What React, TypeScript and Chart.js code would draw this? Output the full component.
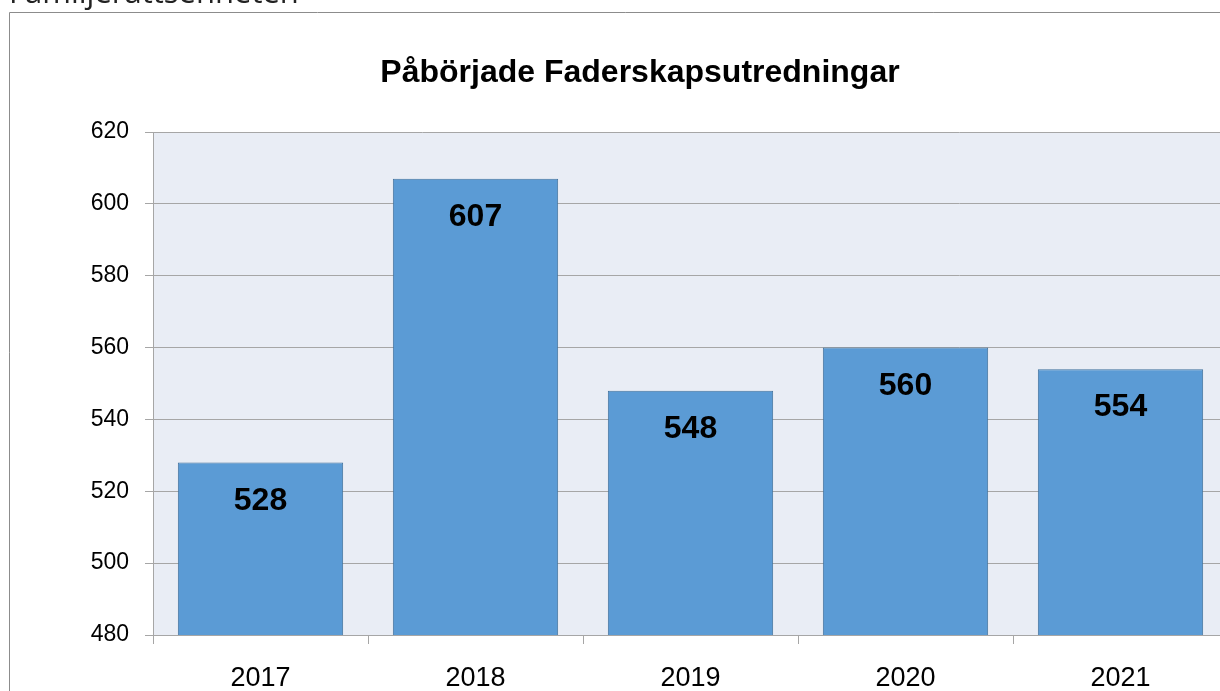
import React, { useEffect, useRef } from "react";
import { Chart, registerables } from "chart.js";

Chart.register(...registerables);

const categories = ["2017", "2018", "2019", "2020", "2021"];
const values = [528, 607, 548, 560, 554];
const yMin = 480;
const yMax = 620;
const yStep = 20;
const chartTitle = "Påbörjade Faderskapsutredningar";
const headerText = "Familjerättsenheten";

const W = 1240;
const H = 691;

const decorPlugin = {
  id: "decor",
  beforeDraw(chart: any) {
    const { ctx, chartArea } = chart;
    ctx.save();
    ctx.fillStyle = "#ffffff";
    ctx.fillRect(0, 0, chart.width, chart.height);
    // outer border
    ctx.strokeStyle = "#8c8c8c";
    ctx.lineWidth = 1;
    ctx.beginPath();
    ctx.moveTo(9.5, chart.height + 5);
    ctx.lineTo(9.5, 12.5);
    ctx.lineTo(chart.width + 5, 12.5);
    ctx.stroke();
    // header text (cut off)
    ctx.fillStyle = "#222";
    ctx.font = "400 31px 'Open Sans'";
    ctx.textBaseline = "alphabetic";
    ctx.textAlign = "left";
    ctx.fillText(headerText, 9, 3);
    // plot background
    ctx.fillStyle = "#E9EDF5";
    ctx.fillRect(chartArea.left, chartArea.top, chartArea.right - chartArea.left, chartArea.bottom - chartArea.top);
    // title
    ctx.fillStyle = "#000";
    ctx.font = "bold 32px 'Liberation Sans'";
    ctx.textAlign = "center";
    ctx.fillText(chartTitle, 640, 82);
    ctx.restore();
  },
  afterDatasetsDraw(chart: any) {
    const { ctx } = chart;
    const meta = chart.getDatasetMeta(0);
    ctx.save();
    ctx.fillStyle = "#000";
    ctx.font = "bold 32px 'Liberation Sans'";
    ctx.textAlign = "center";
    ctx.textBaseline = "alphabetic";
    meta.data.forEach((bar: any, i: number) => {
      ctx.fillText(String(values[i]), bar.x, bar.y + 47);
    });
    ctx.restore();
  },
};

export default function App() {
  const ref = useRef<HTMLCanvasElement>(null);
  useEffect(() => {
    const chart = new Chart(ref.current!, {
      type: "bar",
      data: {
        labels: categories,
        datasets: [
          {
            data: values,
            backgroundColor: "#5B9BD5",
            borderColor: "#41719C",
            borderWidth: 1,
            barPercentage: 0.769,
            categoryPercentage: 1,
          },
        ],
      },
      options: {
        responsive: false,
        animation: false,
        layout: { padding: { top: 132, right: 12, left: 0, bottom: 0 } },
        plugins: { legend: { display: false }, tooltip: { enabled: false }, title: { display: false } },
        scales: {
          x: {
            grid: { drawOnChartArea: false, drawTicks: true, tickLength: 9, color: "#A6A6A6", offset: true },
            border: { display: true, color: "#A6A6A6" },
            ticks: { color: "#000", font: { family: "'Liberation Sans'", size: 27 }, padding: 18, maxRotation: 0 },
            afterFit(scale: any) {
              scale.height = 56;
            },
          },
          y: {
            min: yMin,
            max: yMax,
            ticks: { stepSize: yStep, color: "#000", font: { family: "'Liberation Sans'", size: 23 }, padding: 16 },
            grid: { color: "#A6A6A6", tickLength: 8 },
            border: { display: true, color: "#A6A6A6" },
            afterFit(scale: any) {
              scale.width = 153;
            },
          },
        },
      },
      plugins: [decorPlugin],
    });
    return () => chart.destroy();
  }, []);
  return (
    <div style={{ position: "fixed", left: 0, top: 0, width: 1220, height: 691, overflow: "hidden", background: "#fff" }}>
      <canvas ref={ref} width={W} height={H} style={{ position: "absolute", left: 0, top: 0, width: W, height: H }} />
    </div>
  );
}
